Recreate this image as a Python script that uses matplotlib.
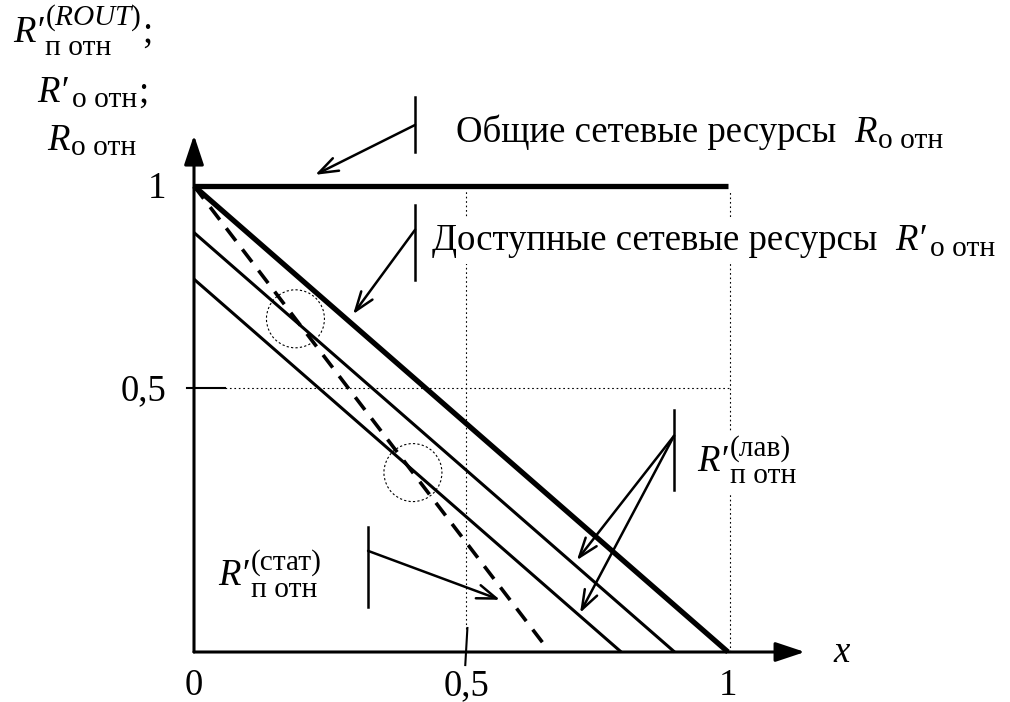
import matplotlib
matplotlib.use("Agg")
import matplotlib.pyplot as plt
from matplotlib.patches import Ellipse, Rectangle
from matplotlib.transforms import IdentityTransform

plt.rcParams["font.family"] = ["Liberation Serif", "DejaVu Serif"]
plt.rcParams["mathtext.fontset"] = "custom"
plt.rcParams["mathtext.rm"] = "Liberation Serif"
plt.rcParams["mathtext.it"] = "Liberation Serif:italic"

# ---- data -------------------------------------------------------------
# total network resources R_о отн (horizontal level)
total_x = [0.0, 1.0]
total_y = [1.0, 1.0]

# available resources R'_о отн (thick) and two avalanche-routing lines
avail_x = [[0.0, 1.0], [0.0, 0.9], [0.0, 0.8]]
avail_y = [[1.0, 0.0], [0.9, 0.0], [0.8, 0.0]]
avail_lw = [3.8, 2.2, 2.2]

# static routing line (dashed)
stat_x = [0.0, 0.653]
stat_y = [1.0, 0.02]

# marked intersections
circle_x = [0.19, 0.41]
circle_y = [0.715, 0.385]

# tick positions / labels
xtick_pos = [0.0, 0.51, 1.0]
xtick_lab = ["0", "0,5", "1"]
ytick_pos = [0.567, 1.0]
ytick_lab = ["0,5", "1"]

FS = 26.5
DPI = 100

fig = plt.figure(figsize=(10.10, 7.02), dpi=DPI)
ax = fig.add_axes([0, 0, 1, 1])
ax.set_xlim(-194 / 534, 816 / 534)
ax.set_ylim(-50 / 466, 652 / 466)
ax.axis("off")
renderer = fig.canvas.get_renderer()
ident = IdentityTransform()


def piece(px, py, s, size, italic=False, z=6, **kw):
    t = ax.text(px, py, s, fontsize=size, style="italic" if italic else "normal",
                ha="left", va="baseline", transform=ident, zorder=z, **kw)
    return t, t.get_window_extent(renderer)


def rlabel(x, y, main="R′", sup=None, sub=None, tail=None,
           sub_dy=-12, sc=0.8, ls=1.1, gap=2, size=FS, start_dx=0,
           backdrop=False):
    """Letter with a stacked super/subscript block, baseline at data (x, y)."""
    px, py = ax.transData.transform((x, y))
    px += start_dx
    boxes = []
    t, bb = piece(px, py, main, size, italic=True)
    boxes.append(bb)
    right = bb.x1 + gap
    if sup and sub:
        t, b = piece(right, py + sub_dy, sup + "\n" + sub, size * sc,
                     linespacing=ls, multialignment="left")
    else:
        t, b = piece(right, py + sub_dy, sub, size * sc)
    boxes.append(b)
    if tail:
        t, b = piece(b.x1 + 1, py, tail, size)
        boxes.append(b)
    if backdrop:
        x0 = min(b.x0 for b in boxes) - 4
        x1 = max(b.x1 for b in boxes) + 4
        y0 = min(b.y0 for b in boxes) - 4
        y1 = max(b.y1 for b in boxes) + 4
        ax.add_patch(Rectangle((x0, y0), x1 - x0, y1 - y0, transform=ident,
                               fc="white", ec="none", zorder=4))
    return boxes


# axes with arrowheads
arrow_axis = dict(arrowstyle="-|>,head_length=0.9,head_width=0.3",
                  lw=2.2, color="k", shrinkA=0, shrinkB=0, mutation_scale=20)
ax.annotate("", xy=(1.144, 0), xytext=(0, 0), arrowprops=arrow_axis)
ax.annotate("", xy=(0, 1.109), xytext=(0, 0), arrowprops=arrow_axis)

# dotted guide lines
dot = dict(color="k", lw=0.8, linestyle=(0, (1.5, 2.5)), zorder=1)
ax.plot([0.058, 1.004], [ytick_pos[0]] * 2, **dot)
ax.plot([xtick_pos[1]] * 2, [0.05, 0.99], **dot)
ax.plot([1.004, 1.004], [0.0, 0.99], **dot)

# tick marks
ax.plot([-0.013, 0.058], [ytick_pos[0]] * 2, color="k", lw=1.5)
ax.plot([xtick_pos[1] + 0.002, xtick_pos[1] - 0.002], [0.0515, -0.028], color="k", lw=1.5)

# tick labels
for xp, lab in zip(xtick_pos, xtick_lab):
    ax.text(xp, -0.092, lab, fontsize=FS, ha="center", va="baseline")
for yp, lab in zip(ytick_pos, ytick_lab):
    ax.text(-0.052, yp - 0.026, lab, fontsize=FS, ha="right", va="baseline")

# curves
ax.plot(total_x, total_y, color="k", lw=3.8, solid_capstyle="butt", zorder=3)
for xs, ys, lw in zip(avail_x, avail_y, avail_lw):
    ax.plot(xs, ys, color="k", lw=lw, solid_capstyle="butt", zorder=3)
ax.plot(stat_x, stat_y, color="k", lw=2.6, linestyle=(0, (4.4, 2.96)), zorder=3)

for cx, cy in zip(circle_x, circle_y):
    ax.add_patch(Ellipse((cx, cy), 58 / 534, 58 / 466, fill=False,
                         lw=0.8, ls=(0, (2, 2)), ec="k", zorder=2))

# axis captions
rlabel(-0.339, 1.309, sup="$(ROUT)$", sub="п отн", tail=";",
       sub_dy=-13, sc=0.8, ls=1.12)
rlabel(-0.294, 1.180, sub="о отн", tail=";", sub_dy=-5, gap=4)
rlabel(-0.275, 1.077, main="R", sub="о отн", sub_dy=-5, gap=1)
ax.text(1.212, -0.021, "x", fontsize=FS, style="italic", ha="center", va="baseline")

# callouts
call = dict(arrowstyle="->,head_length=0.7,head_width=0.25", lw=1.8, color="k",
            shrinkA=0, shrinkB=0, mutation_scale=20)
bar = dict(color="k", lw=1.8)

ax.plot([0.414, 0.414], [1.073, 1.191], **bar)
ax.annotate("", xy=(0.227, 1.024), xytext=(0.414, 1.131), arrowprops=call)
t1 = ax.text(0.491, 1.094, "Общие сетевые ресурсы", fontsize=FS, ha="left", va="baseline")
w1 = t1.get_window_extent(renderer).width
rlabel(0.491, 1.094, main="R", sub="о отн", sub_dy=-6, gap=1, start_dx=w1 + 18)

ax.plot([0.414, 0.414], [0.798, 0.959], **bar)
ax.annotate("", xy=(0.298, 0.725), xytext=(0.414, 0.906), arrowprops=call)
t2 = ax.text(0.446, 0.863, "Доступные сетевые ресурсы", fontsize=FS, ha="left",
             va="baseline", zorder=6)
b2 = t2.get_window_extent(renderer)
ax.add_patch(Rectangle((b2.x0 - 4, b2.y0 - 6), b2.width + 30, b2.height + 12,
                       transform=ident, fc="white", ec="none", zorder=4))
rlabel(0.446, 0.863, sub="о отн", sub_dy=-6, gap=4, start_dx=b2.width + 18,
       backdrop=True)

ax.plot([0.899, 0.899], [0.348, 0.519], **bar)
ax.annotate("", xy=(0.717, 0.197), xytext=(0.899, 0.464), arrowprops=call)
ax.annotate("", xy=(0.723, 0.084), xytext=(0.899, 0.464), arrowprops=call)
rlabel(0.942, 0.388, sup="(лав)", sub="п отн", sub_dy=-12, sc=0.8, ls=1.05,
       backdrop=True)

ax.plot([0.326, 0.326], [0.097, 0.268], **bar)
ax.annotate("", xy=(0.573, 0.112), xytext=(0.326, 0.217), arrowprops=call)
rlabel(0.045, 0.144, sup="(стат)", sub="п отн", sub_dy=-12, sc=0.8, ls=1.05)

fig.savefig("out.png", dpi=DPI, facecolor="white")
